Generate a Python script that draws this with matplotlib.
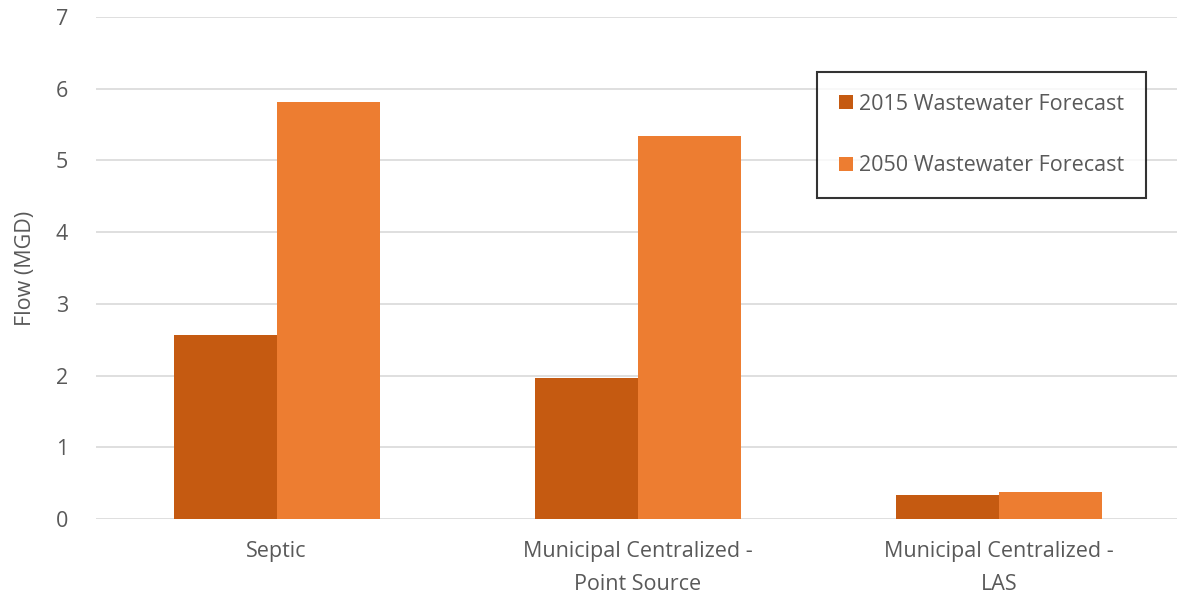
import numpy as np
import matplotlib.pyplot as plt

categories = ['Septic', 'Municipal Centralized -\nPoint Source', 'Municipal Centralized -\nLAS']
flow_2015 = [2.56, 1.97, 0.33]
flow_2050 = [5.81, 5.34, 0.38]
series_names = ['2015 Wastewater Forecast', '2050 Wastewater Forecast']

plt.rcParams['font.family'] = ['Open Sans', 'DejaVu Sans']

fig = plt.figure(figsize=(11.77, 5.94), dpi=100)
ax = fig.add_axes([96 / 1177, 1 - 519 / 594, 1084 / 1177, (519 - 17) / 594])

x = np.arange(len(categories))
w = 0.285
ax.bar(x - w / 2, flow_2015, width=w, color='#C55A11', label=series_names[0], zorder=3)
ax.bar(x + w / 2, flow_2050, width=w, color='#ED7D31', label=series_names[1], zorder=3)

ax.set_xlim(-0.5, 2.5)
ax.set_ylim(0, 7)
ax.set_yticks(range(8))
ax.yaxis.grid(True, color='#D9D9D9', linewidth=1.2, zorder=0)
for s in ax.spines.values():
    s.set_visible(False)
ax.tick_params(axis='both', length=0, labelsize=15.5, labelcolor='#595959')
ax.tick_params(axis='y', pad=20)
ax.tick_params(axis='x', pad=16)
ax.set_xticks(x)
ax.set_xticklabels(categories, linespacing=1.75)
ax.set_ylabel('Flow (MGD)', fontsize=15.5, color='#595959', labelpad=14)

leg = ax.legend(loc='upper left', bbox_to_anchor=((817 - 96) / 1084, 1 - (72 - 17) / 502),
                fontsize=15.5, frameon=True, fancybox=False, edgecolor='black',
                handlelength=0.65, handleheight=0.65, handletextpad=0.3,
                labelspacing=1.9, borderpad=1.0, borderaxespad=0)
leg.get_frame().set_linewidth(1.5)
for t in leg.get_texts():
    t.set_color('#595959')

fig.savefig('out.png', dpi=100)
